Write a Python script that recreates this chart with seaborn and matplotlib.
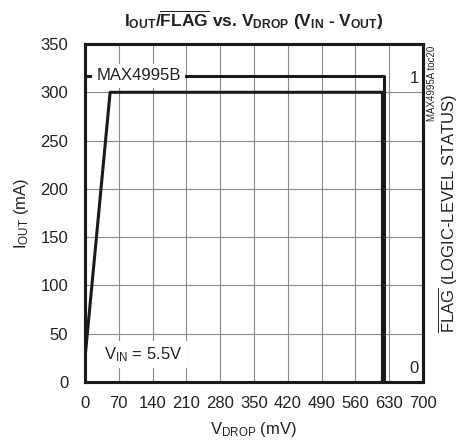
import seaborn as sns
import pandas as pd
import matplotlib.pyplot as plt

# I_OUT trace (mA) vs V_DROP (mV)
vdrop_iout = [0, 1, 52, 616, 616]
iout = [0, 30, 300, 300, 0]

# FLAG logic level vs V_DROP (mV)
vdrop_flag = [0, 619, 619]
flag = [1, 1, 0]

x_ticks = [0, 70, 140, 210, 280, 350, 420, 490, 560, 630, 700]
y_ticks = [0, 50, 100, 150, 200, 250, 300, 350]


def main():
    sns.set_style('white')
    plt.rcParams['font.family'] = ['Liberation Sans', 'DejaVu Sans']
    plt.rcParams['mathtext.fontset'] = 'custom'
    plt.rcParams['mathtext.rm'] = 'Liberation Sans'
    plt.rcParams['mathtext.bf'] = 'Liberation Sans:bold'
    plt.rcParams['mathtext.it'] = 'Liberation Sans:italic'

    df_i = pd.DataFrame({'vdrop': vdrop_iout, 'iout': iout})
    df_f = pd.DataFrame({'vdrop': vdrop_flag, 'flag': flag})

    fig = plt.figure(figsize=(4.62, 4.44), dpi=100)
    ax = fig.add_axes([0.184, 0.1396, 0.7316, 0.7613])
    ax2 = ax.twinx()

    sns.lineplot(data=df_i, x='vdrop', y='iout', sort=False, estimator=None,
                 color='#1a1a1a', lw=2.2, ax=ax)
    sns.lineplot(data=df_f, x='vdrop', y='flag', sort=False, estimator=None,
                 color='#1a1a1a', lw=2.2, ax=ax2)

    ax.set_xlim(0, 700)
    ax.set_ylim(0, 350)
    ax2.set_ylim(0, 350 / 317)
    ax.set_xticks(x_ticks)
    ax.set_yticks(y_ticks)
    ax2.set_yticks([])
    ax.grid(True, color='#8a8a8a', lw=0.8)
    ax.tick_params(length=0, labelsize=12, colors='#222222')
    ax.tick_params(axis='y', pad=12)
    ax.tick_params(axis='x', pad=10)
    for a in (ax, ax2):
        for s in a.spines.values():
            s.set_linewidth(2.2)
            s.set_color('#1a1a1a')

    ax.set_xlabel(r'V$_{\mathrm{DROP}}$ (mV)', fontsize=12, color='#222222')
    ax.set_ylabel(r'I$_{\mathrm{OUT}}$ (mA)', fontsize=12, color='#222222')
    ax2.set_ylabel('')
    ax.xaxis.set_label_coords(0.497, -0.112)
    ax.yaxis.set_label_coords(-0.16, 0.5)

    ax.set_title(r'$\mathbf{I_{OUT}/\overline{FLAG}}$ vs. $\mathbf{V_{DROP}}$ '
                 r'($\mathbf{V_{IN}}$ - $\mathbf{V_{OUT}}$)',
                 fontsize=12.5, fontweight='bold', pad=12, color='#222222')

    box = dict(facecolor='white', edgecolor='none', pad=3)
    ax2.text(24, 317, 'MAX4995B', transform=ax.transData, fontsize=12,
             va='center', ha='left', bbox=box, zorder=10, color='#222222')
    ax2.text(40, 28, r'V$_{\mathrm{IN}}$ = 5.5V', transform=ax.transData, fontsize=12,
             va='center', ha='left', bbox=box, zorder=10, color='#222222')
    ax2.text(682, 0.99, '1', fontsize=12, ha='center', va='center', color='#222222')
    ax2.text(682, 0.045, '0', fontsize=12, ha='center', va='center', color='#222222')

    fig.text(0.934, 0.896, 'MAX4995A toc20', rotation=90, fontsize=7,
             ha='center', va='top', color='#222222')
    fig.text(0.97, 0.52, r'$\overline{\mathrm{FLAG}}$ (LOGIC-LEVEL STATUS)',
             rotation=90, fontsize=12, ha='center', va='center', color='#222222')

    fig.savefig('out.png', dpi=100)


if __name__ == "__main__":
    main()
